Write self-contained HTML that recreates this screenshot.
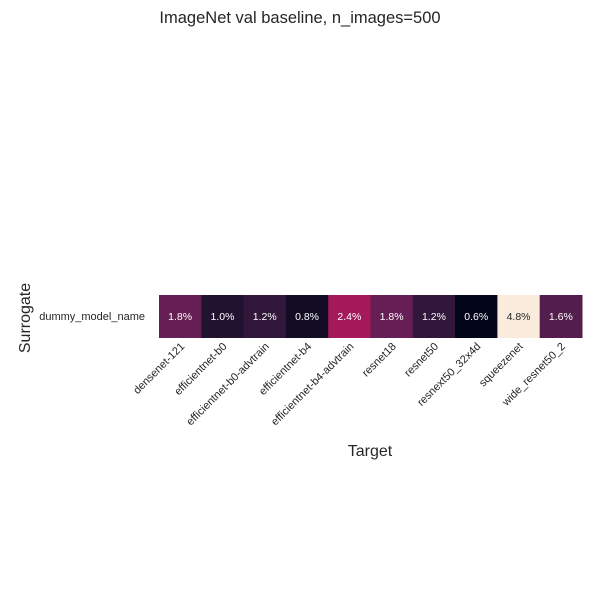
<!DOCTYPE html>
<html><head><meta charset="utf-8"><style>
html,body{margin:0;padding:0;background:#fff}
text{font-family:"Liberation Sans","DejaVu Sans",sans-serif}
</style></head><body>
<svg id="chart" width="600" height="600" xmlns="http://www.w3.org/2000/svg">
<rect width="600" height="600" fill="#fff"/>
<text x="300" y="23" text-anchor="middle" font-size="16.5" fill="#262626">ImageNet val baseline, n_images=500</text>
<text transform="translate(30,318) rotate(-90)" text-anchor="middle" font-size="16" fill="#262626">Surrogate</text>
<text x="370" y="456" text-anchor="middle" font-size="16" fill="#262626">Target</text>
<text x="145" y="320" text-anchor="end" font-size="11" fill="#262626">dummy_model_name</text>
<g id="cells"></g>
</svg>
<script>
const categories=["densenet-121","efficientnet-b0","efficientnet-b0-advtrain","efficientnet-b4","efficientnet-b4-advtrain","resnet18","resnet50","resnext50_32x4d","squeezenet","wide_resnet50_2"];
const values=[1.8,1.0,1.2,0.8,2.4,1.8,1.2,0.6,4.8,1.6];
const rowLabels=["dummy_model_name"];
const rocket=["#03051a","#221331","#451c47","#6a1f56","#9a1b5c","#c21658","#e13342","#f06043","#f58860","#f7b18f","#faebdd"];
const x0=159,x1=582,y0=295,y1=338;
const vmin=Math.min(...values),vmax=Math.max(...values);
const cw=(x1-x0)/categories.length;
function xScale(i){return x0+i*cw;}
function hex(c){return [1,3,5].map(k=>parseInt(c.substr(k,2),16));}
function color(v){let t=(v-vmin)/(vmax-vmin)*10;let i=Math.min(9,Math.floor(t)),f=t-i;
 const a=hex(rocket[i]),b=hex(rocket[i+1]);return "rgb("+a.map((q,k)=>Math.round(q+(b[k]-q)*f)).join(",")+")";}
const ns="http://www.w3.org/2000/svg",g=document.getElementById("cells");
values.forEach((v,i)=>{
 const r=document.createElementNS(ns,"rect");
 r.setAttribute("x",xScale(i));r.setAttribute("y",y0);r.setAttribute("width",cw+0.5);r.setAttribute("height",y1-y0);
 r.setAttribute("fill",color(v));
 
 
 g.appendChild(r);
 const t=document.createElementNS(ns,"text");
 t.setAttribute("x",xScale(i)+cw/2);t.setAttribute("y",(y0+y1)/2+3.5);t.setAttribute("text-anchor","middle");
 t.setAttribute("font-size","10.5");t.setAttribute("fill",(v-vmin)/(vmax-vmin)>0.6?"#262626":"#ffffff");
 t.textContent=v.toFixed(1)+"%";
 
 
 g.appendChild(t);
 const l=document.createElementNS(ns,"text");
 const cx=xScale(i)+cw/2+5,cy=y1+9;
 l.setAttribute("transform","translate("+cx+","+cy+") rotate(-45)");
 l.setAttribute("text-anchor","end");l.setAttribute("font-size","11");l.setAttribute("fill","#262626");
 l.textContent=categories[i];
 
 
 g.appendChild(l);
});
</script>
</body></html>
